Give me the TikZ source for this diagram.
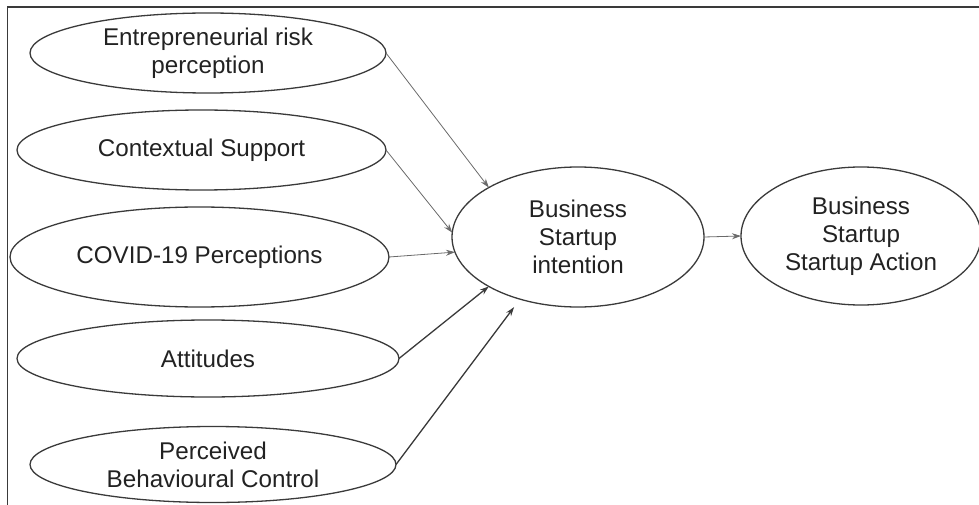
\documentclass[tikz,border=0pt]{standalone}
\usepackage{fontspec}
\setmainfont{Liberation Sans}
\usetikzlibrary{shapes.geometric,arrows.meta}
\definecolor{ink}{HTML}{222222}
\definecolor{edge}{HTML}{3A3A3A}
\definecolor{lightedge}{HTML}{6A6A6A}
\begin{document}
\begin{tikzpicture}[x=1pt,y=-1pt,
  oval/.style={ellipse, draw=edge, line width=1.3pt, inner sep=0pt, outer sep=0pt},
  txt/.style={align=center, text=ink, inner sep=0pt,
    font=\fontsize{24.2}{28}\selectfont},
  thinarrow/.style={draw=lightedge, line width=0.8pt,
    -{Stealth[length=9pt,width=6pt]}},
  thickarrow/.style={draw=edge, line width=1.3pt,
    -{Stealth[length=9pt,width=6pt]}}]
  \useasboundingbox (0,0) rectangle (979,505);
  % frame
  \draw[edge, line width=1.4pt] (979,7) -- (7.5,7) -- (7.5,505);

  % predictors
  \node[oval, minimum width=356, minimum height=80] (erp) at (208,53) {};
  \node[txt] (erp-t) at (erp) {Entrepreneurial risk\\perception};
  \node[oval, minimum width=369, minimum height=80] (cs) at (201.5,150) {};
  \node[txt] (cs-t) at (cs) {Contextual Support};
  \node[oval, minimum width=379, minimum height=100] (covid) at (199.5,257) {};
  \node[txt] (covid-t) at (covid) {COVID-19 Perceptions};
  \node[oval, minimum width=382, minimum height=77] (att) at (208,358.5) {};
  \node[txt] (att-t) at (att) {Attitudes};
  \node[oval, minimum width=366, minimum height=76] (pbc) at (213,464.5) {};
  \node[txt] (pbc-t) at (pbc) {Perceived\\Behavioural Control};

  % outcomes
  \node[oval, minimum width=252, minimum height=140] (bsi) at (578,237) {};
  \node[txt] (bsi-t) at (bsi) {Business\\Startup\\intention};
  \node[oval, minimum width=240, minimum height=138] (bsa) at (861,236) {};
  \node[txt] (bsa-t) at (bsa) {Business\\Startup\\Startup Action};

  % paths
  \draw[thinarrow] (erp.east) -- (bsi.151);
  \draw[thinarrow] (cs.east) -- (bsi.178);
  \draw[thinarrow] (covid.east) -- (bsi.187);
  \draw[thickarrow] (att.east) -- (bsi.209);
  \draw[thickarrow, shorten >=10pt] (pbc.east) -- (bsi.227);
  \draw[thinarrow] (bsi.east) -- (bsa.west);
\end{tikzpicture}
\end{document}
